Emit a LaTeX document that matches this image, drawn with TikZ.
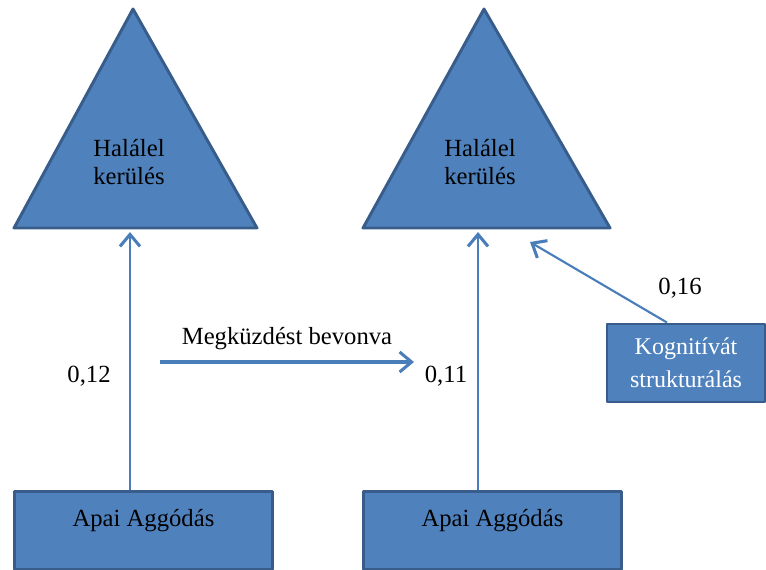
\documentclass[tikz,border=0pt]{standalone}
\usepackage{fontspec}
\setmainfont{Liberation Serif}
\newfontfamily\serifb{Liberation Serif}
\usetikzlibrary{calc,positioning,arrows.meta}

\definecolor{fillb}{HTML}{4F81BD}
\definecolor{edgeb}{HTML}{385D8A}
\definecolor{linkb}{HTML}{4A7EBB}

\begin{document}
\begin{tikzpicture}[x=0.75pt, y=-0.75pt, every node/.style={inner sep=2pt},
    shapeb/.style={fill=fillb, draw=edgeb, line width=2.2pt, line join=round},
    boxb/.style={shapeb, minimum width=258*0.75pt, minimum height=78*0.75pt,
        text height=13pt, text depth=19pt},
    conn/.style={draw=linkb, line width=1.6pt,
        -{Straight Barb[length=9pt, width=15pt, line width=2.3pt]}},
    lbl/.style={font=\serifb\fontsize{18.5}{21}\selectfont, align=center}
    ]

    \useasboundingbox (0,0) rectangle (766,569);

    % Triangles (Halálelkerülés)
    \draw[shapeb] (14,228) -- (133,9) -- (257,228) -- cycle;
    \draw[shapeb] (363,228) -- (484,9) -- (610,228) -- cycle;
    \node[lbl] (h1) at (129,162) {Halálel\\kerülés};
    \node[lbl] (h2) at (480,162) {Halálel\\kerülés};
    \coordinate (t1b) at (130,232);
    \coordinate (t2b) at (478,232);
    \coordinate (t2r) at (530,242);

    % Boxes
    \node[boxb, anchor=north west, lbl] (a1) at (13,490) {Apai Aggódás};
    \node[boxb, anchor=north west, lbl] (a2) at (362,490) {Apai Aggódás};
    \node[shapeb, minimum width=158*0.75pt, minimum height=78*0.75pt, lbl, text=white,
        font=\fontsize{18}{25}\selectfont] (k1) at (686,363) {Kognitívát\\strukturálás};

    % Paths
    \draw[conn] (a1.north -| t1b) -- (t1b);
    \draw[conn] (a2.north -| t2b) -- (t2b);
    \draw[conn] ([xshift=-19*0.75pt]k1.north) -- (t2r);

    \coordinate (m1) at (160,362);
    \coordinate (m2) at (414,362);
    \draw[conn, line width=3pt] (m1) -- (m2)
        node[midway, above=6pt, lbl] (mb) {Megküzdést bevonva};

    % Coefficients
    \node[lbl] (c1) at (89,376) {0,12};
    \node[lbl] (c2) at (446,376) {0,11};
    \node[lbl] (c3) at (680,288) {0,16};

\end{tikzpicture}
\end{document}
